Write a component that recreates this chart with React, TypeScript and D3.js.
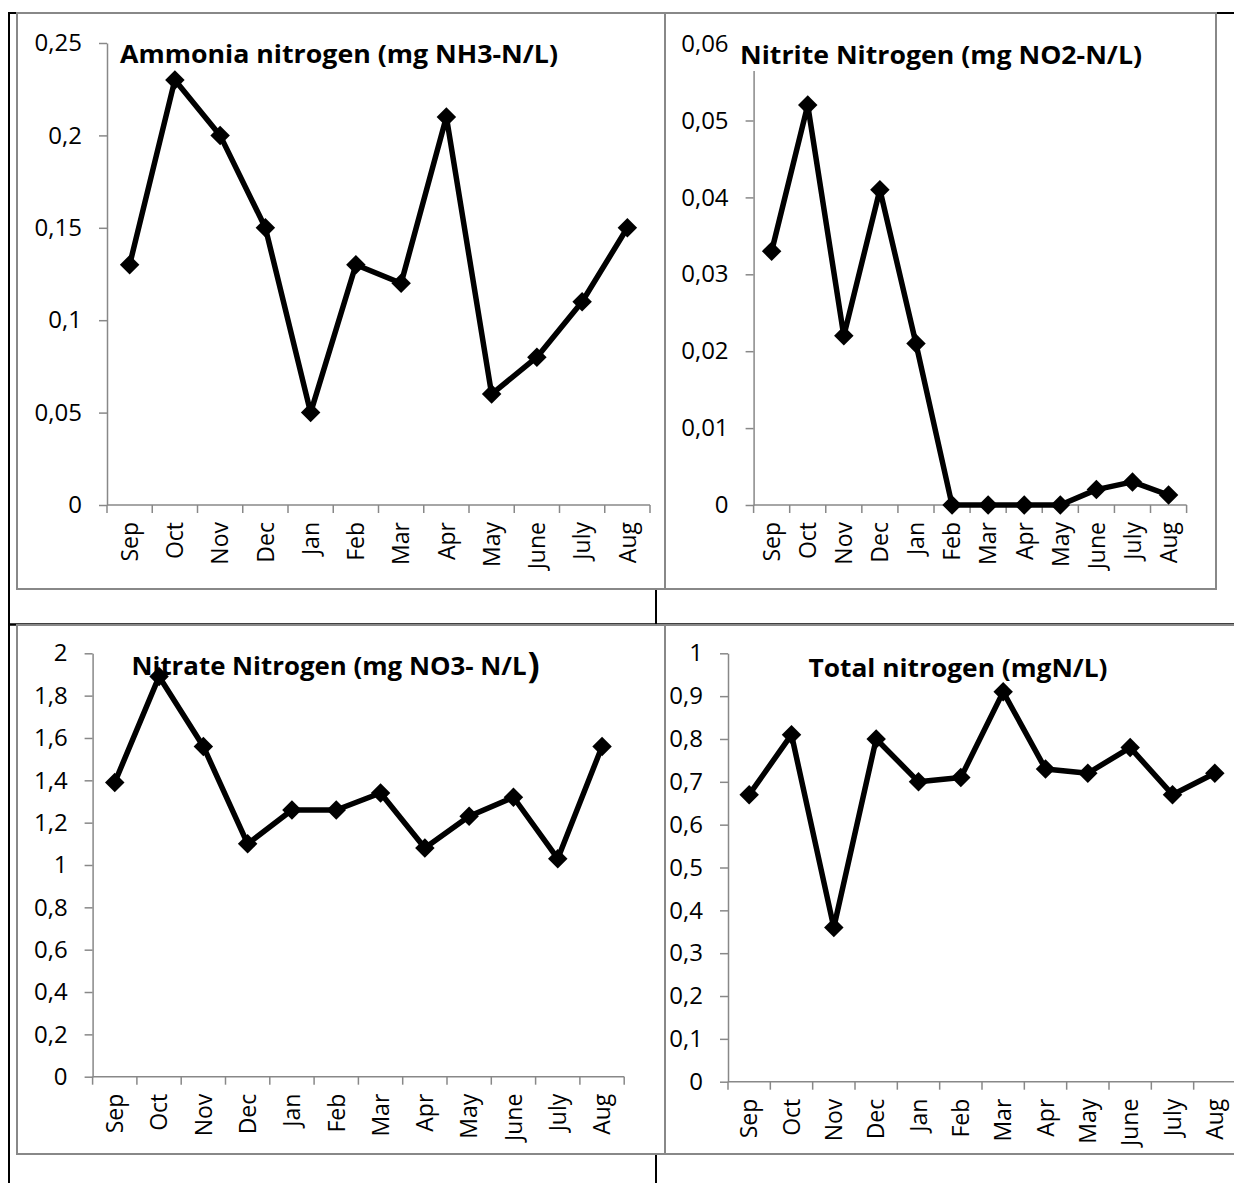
import React, { useRef, useEffect } from 'react';
import * as d3 from 'd3';

const months = ['Sep', 'Oct', 'Nov', 'Dec', 'Jan', 'Feb', 'Mar', 'Apr', 'May', 'June', 'July', 'Aug'];

const ammonia = [0.13, 0.23, 0.2, 0.15, 0.05, 0.13, 0.12, 0.21, 0.06, 0.08, 0.11, 0.15];
const nitrite = [0.033, 0.052, 0.022, 0.041, 0.021, 0, 0, 0, 0, 0.002, 0.003, 0.0013];
const nitrate = [1.39, 1.89, 1.56, 1.1, 1.26, 1.26, 1.34, 1.08, 1.23, 1.32, 1.03, 1.56];
const totalN = [0.67, 0.81, 0.36, 0.8, 0.7, 0.71, 0.91, 0.73, 0.72, 0.78, 0.67, 0.72];

const ammoniaTicks = [0, 0.05, 0.1, 0.15, 0.2, 0.25];
const nitriteTicks = [0, 0.01, 0.02, 0.03, 0.04, 0.05, 0.06];
const nitrateTicks = [0, 0.2, 0.4, 0.6, 0.8, 1, 1.2, 1.4, 1.6, 1.8, 2];
const totalTicks = [0, 0.1, 0.2, 0.3, 0.4, 0.5, 0.6, 0.7, 0.8, 0.9, 1];

const W = 1234;
const H = 1183;
const FONT = '"Open Sans", "DejaVu Sans", sans-serif';
const GREY = '#888888';

// comma decimals like the source sheet
const fmt = (v: number) => String(+v.toFixed(3)).replace('.', ',');

interface Panel {
  title: string;
  bigParen?: boolean;
  values: number[];
  ticks: number[];
  box: { x: number; y: number; w: number; h: number };
  plot: { left: number; right: number; top: number; bottom: number };
  titleX: number;
  titleY: number;
  titleW: number;
}

const panels: Panel[] = [
  {
    title: 'Ammonia nitrogen (mg NH3-N/L)',
    values: ammonia,
    ticks: ammoniaTicks,
    box: { x: 17, y: 13, w: 648, h: 576 },
    plot: { left: 107, right: 650, top: 43, bottom: 505 },
    titleX: 339,
    titleY: 63,
    titleW: 438,
  },
  {
    title: 'Nitrite Nitrogen (mg NO2-N/L)',
    values: nitrite,
    ticks: nitriteTicks,
    box: { x: 665, y: 13, w: 551, h: 576 },
    plot: { left: 753.6, right: 1186.6, top: 43.6, bottom: 505 },
    titleX: 941,
    titleY: 64,
    titleW: 402,
  },
  {
    title: 'Nitrate Nitrogen (mg NO3- N/L',
    bigParen: true,
    values: nitrate,
    ticks: nitrateTicks,
    box: { x: 17, y: 625, w: 648, h: 529 },
    plot: { left: 92.6, right: 624.2, top: 653.3, bottom: 1076.7 },
    titleX: 329,
    titleY: 675,
    titleW: 395,
  },
  {
    title: 'Total nitrogen (mgN/L)',
    values: totalN,
    ticks: totalTicks,
    box: { x: 665, y: 625, w: 600, h: 529 },
    plot: { left: 728, right: 1236, top: 653.3, bottom: 1081.7 },
    titleX: 958,
    titleY: 677,
    titleW: 299,
  },
];

const App: React.FC = () => {
  const svgRef = useRef<SVGSVGElement>(null);

  useEffect(() => {
    if (!svgRef.current) return;
    const svg = d3.select(svgRef.current);
    svg.selectAll('*').remove();

    svg.append('rect').attr('width', W).attr('height', H).attr('fill', '#fff');

    // table lines behind the charts
    const table = svg.append('g').attr('stroke', '#000');
    table.append('line').attr('x1', 8).attr('x2', W).attr('y1', 13).attr('y2', 13).attr('stroke-width', 2.2);
    table.append('line').attr('x1', 9).attr('x2', 9).attr('y1', 12).attr('y2', H).attr('stroke-width', 2);
    table.append('line').attr('x1', 8).attr('x2', W).attr('y1', 624.5).attr('y2', 624.5).attr('stroke-width', 2.5);
    table.append('line').attr('x1', 656).attr('x2', 656).attr('y1', 13).attr('y2', H).attr('stroke-width', 2);

    panels.forEach((p) => {
      const g = svg.append('g');

      g.append('rect')
        .attr('x', p.box.x)
        .attr('y', p.box.y)
        .attr('width', p.box.w)
        .attr('height', p.box.h)
        .attr('fill', '#fff')
        .attr('stroke', GREY)
        .attr('stroke-width', 2);

      const x = d3.scaleBand<string>().domain(months).range([p.plot.left, p.plot.right]);
      const y = d3.scaleLinear()
        .domain([0, p.ticks[p.ticks.length - 1]])
        .range([p.plot.bottom, p.plot.top]);

      // y axis
      const yAxis = g.append('g')
        .attr('transform', `translate(${p.plot.left},0)`)
        .call(d3.axisLeft(y).tickValues(p.ticks).tickSize(8).tickSizeOuter(0).tickPadding(17).tickFormat((d) => fmt(+d)));
      yAxis.select('.domain').attr('stroke', GREY).attr('stroke-width', 1.5);
      yAxis.selectAll('.tick line').attr('stroke', GREY).attr('stroke-width', 1.5);
      yAxis.selectAll('.tick text')
        .attr('fill', '#000')
        .style('font-family', FONT)
        .style('font-size', '24px');

      // x axis: ticks sit on the band edges
      const xg = g.append('g');
      xg.append('line')
        .attr('x1', p.plot.left).attr('x2', p.plot.right)
        .attr('y1', p.plot.bottom).attr('y2', p.plot.bottom)
        .attr('stroke', GREY).attr('stroke-width', 1.5);
      const edges = months.map((m) => x(m) as number).concat([p.plot.right]);
      xg.selectAll('line.edge')
        .data(edges)
        .enter().append('line')
        .attr('class', 'edge')
        .attr('x1', (d) => d).attr('x2', (d) => d)
        .attr('y1', p.plot.bottom).attr('y2', p.plot.bottom + 8)
        .attr('stroke', GREY).attr('stroke-width', 1.5);
      xg.selectAll('text')
        .data(months)
        .enter().append('text')
        .attr('transform', (d) => `translate(${(x(d) as number) + x.bandwidth() / 2},${p.plot.bottom + 17}) rotate(-90)`)
        .attr('dy', '0.36em')
        .attr('text-anchor', 'end')
        .style('font-family', FONT)
        .style('font-size', '23px')
        .text((d) => d);

      // title, white box hides the axis top like in the sheet
      const tg = g.append('g');
      const bg = tg.append('rect').attr('fill', '#fff');
      const t = tg.append('text')
        .attr('x', p.titleX)
        .attr('y', p.titleY)
        .attr('text-anchor', 'middle')
        .attr('textLength', p.titleW)
        .attr('lengthAdjust', 'spacingAndGlyphs')
        .style('font-family', FONT)
        .style('font-size', '25px')
        .style('font-weight', 'bold')
        .text(p.title);
      const bb = (t.node() as SVGTextElement).getBBox();
      let right = bb.x + bb.width;
      if (p.bigParen) {
        const paren = tg.append('text')
          .attr('x', right + 1)
          .attr('y', p.titleY + 3)
          .style('font-family', FONT)
          .style('font-size', '36px')
          .style('font-weight', 'bold')
          .text(')');
        const pb = (paren.node() as SVGTextElement).getBBox();
        right = pb.x + pb.width;
      }
      bg.attr('x', bb.x - 6).attr('y', bb.y).attr('width', right - bb.x + 12).attr('height', bb.height);

      // series
      const pts = p.values.map((v, i) => [(x(months[i]) as number) + x.bandwidth() / 2, y(v)] as [number, number]);
      g.append('path')
        .datum(pts)
        .attr('fill', 'none')
        .attr('stroke', '#000')
        .attr('stroke-width', 5.5)
        .attr('stroke-linejoin', 'round')
        .attr('d', d3.line());

      const diamond = d3.symbol().type(d3.symbolSquare).size(190);
      g.selectAll('path.marker')
        .data(pts)
        .enter().append('path')
        .attr('class', 'marker')
        .attr('transform', (d) => `translate(${d[0]},${d[1]}) rotate(45)`)
        .attr('d', diamond as any)
        .attr('fill', '#000');
    });
  }, []);

  return (
    <svg
      ref={svgRef}
      width={W}
      height={H}
      style={{ position: 'absolute', left: 0, top: 0, overflow: 'hidden', display: 'block' }}
    />
  );
};

export default App;
